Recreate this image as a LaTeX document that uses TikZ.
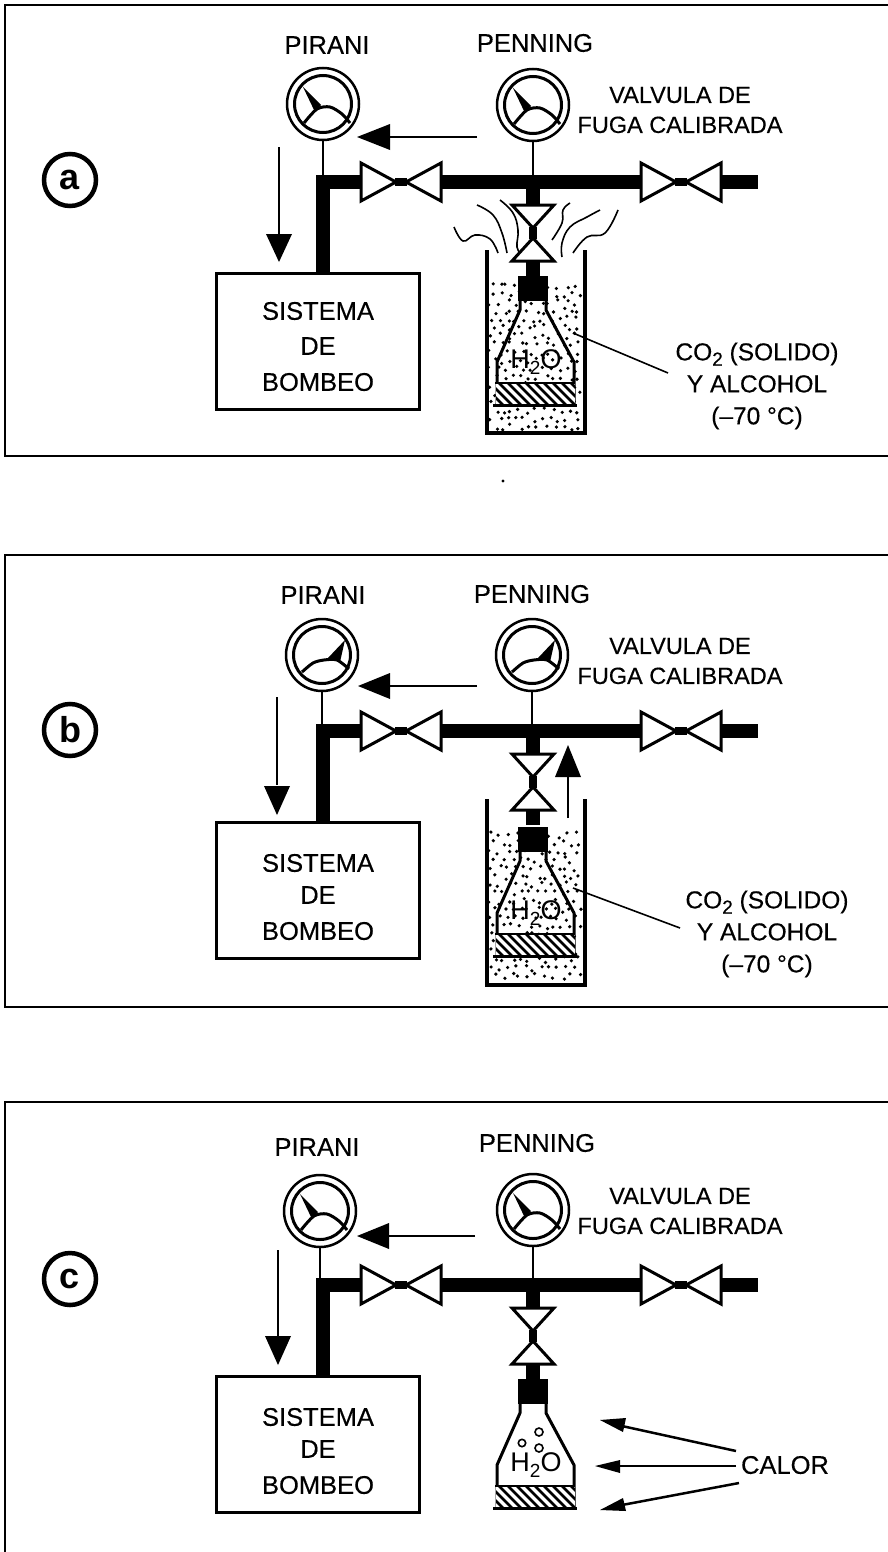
\documentclass[tikz,border=0pt]{standalone}
\usepackage{fontspec}
\setmainfont{Liberation Sans}
\newfontfamily\heavyfont[FakeBold=0.35]{Liberation Sans}
\newcommand{\lowtwo}{\raisebox{-0.22em}{\fontsize{19}{19}\selectfont 2}}
\tikzset{
 x=1pt,y=-1pt,
 lbl/.style={inner sep=0pt,align=center,font=\heavyfont\fontsize{25.5}{31}\selectfont},
 fugalbl/.style={inner sep=0pt,align=center,font=\heavyfont\fontsize{23.5}{30}\selectfont},
 colbl/.style={inner sep=0pt,align=center,font=\heavyfont\fontsize{24.5}{32}\selectfont},
 watertxt/.style={inner sep=0pt,font=\fontsize{27}{27}\selectfont},
 framepanel/.style={line width=2pt},
 pipe/.style={line width=14pt,line cap=butt},
 thinl/.style={line width=1.6pt},
 valveshape/.style={draw,fill=white,line width=3pt,line join=miter},
 flowarrow/.style={line width=2.5pt},
 boxn/.style={draw,line width=3pt,inner sep=0pt,minimum width=203pt,minimum height=136pt,anchor=north west,fill=white},
 letter/.style={draw,circle,line width=4.5pt,minimum size=52pt,inner sep=0pt,font=\fontsize{36}{36}\selectfont\bfseries},
 fume/.style={line width=1.6pt,smooth,tension=0.7},
 beaker/.style={line width=4pt,line join=miter},
 flaskline/.style={line width=3pt,line join=round},
}
\newcommand{\gaugeat}[3]{%
 \node[circle,draw,line width=2.5pt,minimum size=72pt,inner sep=0pt,fill=white] (#1) at (#2,#3) {};
 \begin{scope}[shift={(#2,#3)}]
  \draw[line width=3pt] (0,0) circle[radius=28.5];
  \fill (-20,-17) -- (-2,1) -- (-8,8) -- cycle;
  \draw[line width=3pt] plot[smooth] coordinates {(-19,19) (-6,5) (7,3) (19,10) (27,19)};
 \end{scope}}
\newcommand{\gaugeflip}[3]{%
 \node[circle,draw,line width=2.5pt,minimum size=72pt,inner sep=0pt,fill=white] (#1) at (#2,#3) {};
 \begin{scope}[shift={(#2,#3)}]
  \draw[line width=3pt] (0,0) circle[radius=28.5];
  \fill (23,-15) -- (18,7) -- (13,3) -- (6,3) -- cycle;
  \draw[line width=3pt] plot[smooth] coordinates {(-20,17) (-9,8) (2,5) (15,5) (27,14)};
 \end{scope}}
\newcommand{\valveat}[1]{%
 \begin{scope}[shift={(#1)}]
  \fill[white] (-40,-8) rectangle (40,8);
  \fill (-6,-4) rectangle (6,4);
  \path[valveshape] (-40,-19) -- (-40,19) -- (-5,0) -- cycle;
  \path[valveshape] (40,-19) -- (40,19) -- (5,0) -- cycle;
 \end{scope}}
\newcommand{\vvalveat}[1]{%
 \begin{scope}[shift={(#1)}]
  \fill[white] (-8,-29) rectangle (8,29);
  \fill (-4,-6) rectangle (4,6);
  \path[valveshape] (-21,-28) -- (21,-28) -- (0,-5) -- cycle;
  \path[valveshape] (-21,28) -- (21,28) -- (0,5) -- cycle;
 \end{scope}}
\newcommand{\pipes}[1]{%
 \coordinate (#1elbow) at (323,182);
 \coordinate (#1vA) at (401,182);
 \coordinate (#1tee) at (533,182);
 \coordinate (#1vB) at (681,182);
 \coordinate (#1end) at (758,182);
 \coordinate (#1vC) at (533,233);
 \coordinate (#1neck) at (533,276);
 \node[boxn] (#1box) at (215,272) {};
 \draw[pipe] (#1box.north -| #1elbow) -- (323,175);
 \draw[pipe] (316,182) -- (#1tee) -- (#1end);
 \draw[pipe] (#1tee) -- (#1neck);
 }
\newcommand{\valves}[1]{\valveat{#1vA}\valveat{#1vB}\vvalveat{#1vC}}
\newcommand{\stipple}[1]{%
 \foreach \i in {0,...,10}{\foreach \j in {0,...,17}{%
   \pgfmathsetmacro{\dx}{491+8.4*\i+6*rnd-3+mod(\j,2)*4.2}
   \pgfmathsetmacro{\dy}{286+8.3*\j+6*rnd-3}
   \pgfmathparse{\dx<581 ? (\dy<#1 ? 1 : 0) : 0}
   \ifnum\pgfmathresult=1 \fill (\dx,\dy) circle[radius=1.8];\fi
 }}}
\newcommand{\flask}[1]{%
 \fill (518,276) rectangle (548,301);
 \draw[flaskline] (520,301) -- (520,310) -- (497,362) -- (497,405) (574,405) -- (574,362) -- (546,310) -- (546,301);
 \draw[flaskline] (493,405) -- (577,405);
 \begin{scope}
  \clip (496,383) rectangle (575,403.5);
  \fill[white] (496,383) rectangle (575,403.5);
  \foreach \k in {0,...,12}{\draw[line width=2.5pt] (478+9*\k,380) -- (478+9*\k+26,406);}
 \end{scope}
 \draw[line width=2pt] (495,383) -- (575,383);
 \node[watertxt] (#1water) at (536,362) {H\lowtwo O};
 }
\begin{document}
\begin{tikzpicture}
\useasboundingbox (0,0) rectangle (888,1552);
\fill[white] (0,0) rectangle (888,1552);
% ---------- frames
\draw[framepanel] (888,5) -- (5,5) -- (5,456) -- (888,456);
\draw[framepanel] (888,555) -- (5,555) -- (5,1007) -- (888,1007);
\draw[framepanel] (888,1102) -- (5,1102) -- (5,1552);
\node[letter] (la) at (70,180) {a};
\node[letter] (lb) at (70,730) {b};
\node[letter] (lc) at (70,1279) {c};
% ---------- panel a
\pgfmathsetseed{7}
\begin{scope}
 \pipes{a}
 \stipple{431}
 \draw[beaker] (487,250) -- (487,433) -- (585,433) -- (585,250);
 \draw[fume] plot coordinates {(454,227) (463,241) (475,235) (490,239) (498,253)};
 \draw[fume] plot coordinates {(477,205) (493,215) (502,233) (507,253)};
 \draw[fume] plot coordinates {(500,200) (513,213) (518,230) (517,247) (522,255)};
 \draw[fume] plot coordinates {(570,203) (563,210) (562,223) (552,240)};
 \draw[fume] plot coordinates {(600,210) (587,217) (570,227) (562,243) (562,257)};
 \draw[fume] plot coordinates {(618,210) (605,233) (587,237) (573,253)};
 \draw[pipe] (533,182) -- (533,276);
 \valves{a}
 \flask{a}
 \node[lbl] at (318,311) {SISTEMA};
 \node[lbl] at (318,346) {DE};
 \node[lbl] at (318,382) {BOMBEO};
\end{scope}
\gaugeat{apir}{323}{104}
\gaugeat{apen}{533}{105}
\draw[thinl] (apir.south) -- (323,175);
\draw[thinl] (apen.south) -- (533,175);
\node[lbl] (tapir) at (327,45) {PIRANI};
\node[lbl] (tapen) at (535,43) {PENNING};
\node[fugalbl] (tafuga) at (680,110) {VALVULA DE\\FUGA CALIBRADA};
\node[colbl] (taco) at (757,386) {CO\lowtwo{} (SOLIDO)\\Y ALCOHOL\\(–70 °C)};
\coordinate (aleadA) at (573,333);
\coordinate (aleadB) at (668,373);
\draw[thinl] (aleadA) -- (aleadB);
\coordinate (aH1) at (477,137); \coordinate (aH2) at (390,137);
\draw[flowarrow] (aH1) -- (aH2);
\fill (357,137) -- (390,124) -- (390,150) -- cycle;
\coordinate (aV1) at (279,147); \coordinate (aV2) at (279,235);
\draw[flowarrow] (aV1) -- (aV2);
\fill (279,262) -- (266,234) -- (292,234) -- cycle;
\fill (503,481) circle[radius=1.6];
% ---------- panel b
\begin{scope}[shift={(0,549)}]
 \pipes{b}
 \stipple{434}
 \draw[beaker] (487,250) -- (487,436) -- (585,436) -- (585,250);
 \draw[pipe] (533,182) -- (533,276);
 \valves{b}
 \begin{scope}[shift={(0,2)}]\flask{b}\end{scope}
 \node[lbl] at (318,314) {SISTEMA};
 \node[lbl] at (318,346) {DE};
 \node[lbl] at (318,382) {BOMBEO};
\end{scope}
\gaugeflip{bpir}{322}{655}
\gaugeflip{bpen}{532}{655}
\draw[thinl] (bpir.south) -- (322,724);
\draw[thinl] (bpen.south) -- (532,724);
\node[lbl] (tbpir) at (323,595) {PIRANI};
\node[lbl] (tbpen) at (532,594) {PENNING};
\node[fugalbl] (tbfuga) at (680,661) {VALVULA DE\\FUGA CALIBRADA};
\node[colbl] (tbco) at (767,934) {CO\lowtwo{} (SOLIDO)\\Y ALCOHOL\\(–70 °C)};
\coordinate (bleadA) at (573,888);
\coordinate (bleadB) at (680,928);
\draw[thinl] (bleadA) -- (bleadB);
\coordinate (bH1) at (477,686); \coordinate (bH2) at (390,686);
\draw[flowarrow] (bH1) -- (bH2);
\fill (358,686) -- (390,673) -- (390,699) -- cycle;
\coordinate (bV1) at (277,697); \coordinate (bV2) at (277,785);
\draw[flowarrow] (bV1) -- (bV2);
\fill (277,815) -- (264,786) -- (290,786) -- cycle;
\coordinate (bU1) at (568,818); \coordinate (bU2) at (568,775);
\draw[flowarrow] (bU1) -- (bU2);
\fill (568,745) -- (555,777) -- (581,777) -- cycle;
% ---------- panel c
\begin{scope}[shift={(0,1103)}]
 \pipes{c}
 \draw[pipe] (533,182) -- (533,276);
 \valves{c}
 \flask{c}
 \draw[line width=1.6pt] (522,340) circle[radius=3.7] (539,329) circle[radius=4] (539,345) circle[radius=4];
 \node[lbl] at (318,314) {SISTEMA};
 \node[lbl] at (318,346) {DE};
 \node[lbl] at (318,382) {BOMBEO};
\end{scope}
\gaugeat{cpir}{320}{1211}
\gaugeat{cpen}{533}{1210}
\draw[thinl] (cpir.south) -- (320,1278);
\draw[thinl] (cpen.south) -- (533,1278);
\node[lbl] (tcpir) at (317,1147) {PIRANI};
\node[lbl] (tcpen) at (537,1143) {PENNING};
\node[fugalbl] (tcfuga) at (680,1211) {VALVULA DE\\FUGA CALIBRADA};
\node[lbl] (tccal) at (785,1465) {CALOR};
\coordinate (cH1) at (475,1236); \coordinate (cH2) at (388,1236);
\draw[flowarrow] (cH1) -- (cH2);
\fill (357,1236) -- (389,1223) -- (389,1249) -- cycle;
\coordinate (cV1) at (278,1250); \coordinate (cV2) at (278,1337);
\draw[flowarrow] (cV1) -- (cV2);
\fill (278,1365) -- (265,1336) -- (291,1336) -- cycle;
\coordinate (cA1) at (736,1451); \coordinate (cA2) at (622,1426);
\draw[flowarrow] (cA1) -- (cA2);
\fill (600,1420) -- (626,1418) -- (623,1432) -- cycle;
\coordinate (cB1) at (736,1466); \coordinate (cB2) at (618,1466);
\draw[flowarrow] (cB1) -- (cB2);
\fill (595,1466) -- (620,1460) -- (620,1473) -- cycle;
\coordinate (cC1) at (739,1483); \coordinate (cC2) at (622,1505);
\draw[flowarrow] (cC1) -- (cC2);
\fill (600,1510) -- (623,1498) -- (626,1511) -- cycle;
\end{tikzpicture}
\end{document}
